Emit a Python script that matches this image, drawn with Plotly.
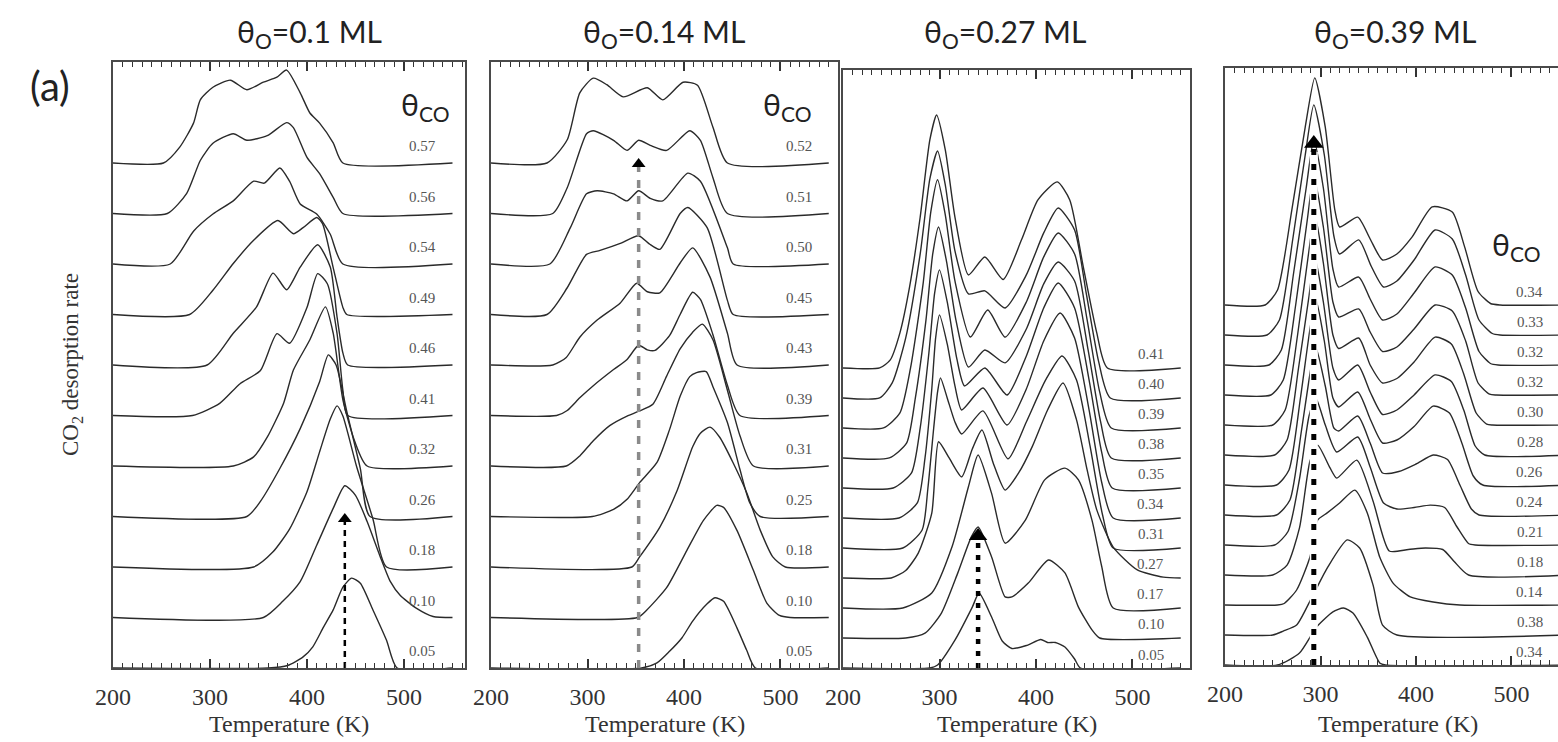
import plotly.graph_objects as go

W, H = 1558, 742

# ---------------- data (heights in units of the stacking offset) ----------------
P1_TITLE = "θ<sub>O</sub>=0.1 ML"
P1_LABELS = ["0.05", "0.10", "0.18", "0.26", "0.32", "0.41", "0.46", "0.49", "0.54", "0.56", "0.57"]
P1_T = [
    [200, 360, 380, 396, 406, 417, 427, 437, 446, 455, 468, 482, 493, 550],
    [200, 355, 375, 393, 410, 427, 439, 450, 462, 475, 486, 496, 513, 530, 550],
    [200, 345, 365, 382, 400, 413, 424, 431, 437, 451, 468, 482, 550],
    [200, 338, 352, 372, 393, 413, 422, 430, 441, 455, 465, 550],
    [200, 324, 345, 359, 376, 386, 403, 419, 427, 437, 449, 462, 550],
    [200, 282, 310, 331, 352, 369, 382, 400, 411, 421, 431, 437, 442, 550],
    [200, 297, 324, 348, 365, 379, 393, 411, 424, 431, 437, 442, 550],
    [200, 279, 303, 324, 345, 370, 386, 396, 410, 416, 427, 437, 441, 550],
    [200, 259, 283, 303, 324, 345, 356, 372, 382, 393, 410, 424, 437, 550],
    [200, 256, 276, 290, 303, 324, 338, 359, 379, 386, 400, 413, 427, 437, 550],
    [200, 252, 269, 283, 290, 303, 321, 338, 355, 369, 379, 393, 403, 413, 427, 437, 550],
]
P1_H = [
    [0, 0, 0.05, 0.22, 0.42, 0.81, 1.15, 1.6, 1.78, 1.68, 1.15, 0.55, 0, 0],
    [0, 0, 0.32, 0.71, 1.43, 2.16, 2.61, 2.42, 1.9, 1.23, 0.71, 0.44, 0.18, 0.02, 0],
    [0, 0, 0.3, 0.75, 1.49, 2.28, 2.93, 3.19, 2.99, 2.0, 0.95, 0, 0],
    [0, 0, 0.3, 0.95, 1.74, 2.67, 3.2, 3.0, 2.08, 0.95, 0, 0],
    [0, 0, 0.18, 0.57, 1.25, 1.9, 2.5, 3.15, 2.63, 1.31, 0.5, 0, 0],
    [0, 0, 0.24, 0.63, 0.89, 1.62, 1.43, 2.14, 2.81, 2.61, 1.62, 0.5, 0, 0],
    [0, 0, 0.63, 1.15, 1.82, 1.49, 1.94, 2.38, 1.94, 0.95, 0.24, 0, 0],
    [0, 0, 0.48, 1.01, 1.47, 1.86, 1.6, 1.72, 1.92, 1.8, 0.93, 0.14, 0, 0],
    [0, 0, 0.65, 0.99, 1.25, 1.64, 1.6, 1.9, 1.64, 1.19, 0.99, 0.59, 0, 0],
    [0, 0, 0.4, 1.05, 1.39, 1.58, 1.45, 1.54, 1.8, 1.7, 1.11, 0.79, 0.32, 0, 0],
    [0, 0, 0.32, 0.79, 1.25, 1.5, 1.64, 1.45, 1.6, 1.7, 1.84, 1.39, 0.99, 0.79, 0.4, 0, 0],
]
P1_ARROW = (439, 3.07)

P2_TITLE = "θ<sub>O</sub>=0.14 ML"
P2_LABELS = ["0.05", "0.10", "0.18", "0.25", "0.31", "0.39", "0.43", "0.45", "0.50", "0.51", "0.52"]
P2_T = [
    [200, 356, 372, 385, 398, 409, 424, 432, 441, 455, 465, 474, 550],
    [200, 352, 361, 382, 403, 420, 434, 441, 455, 472, 486, 499, 510, 550],
    [200, 346, 354, 375, 393, 409, 417, 427, 437, 451, 465, 479, 492, 505, 550],
    [200, 305, 327, 341, 354, 372, 385, 396, 406, 413, 423, 430, 445, 458, 468, 479, 550],
    [200, 278, 292, 306, 323, 341, 354, 368, 382, 396, 409, 419, 430, 445, 458, 472, 550],
    [200, 268, 279, 292, 306, 327, 341, 353, 362, 370, 385, 396, 409, 417, 430, 445, 458, 550],
    [200, 264, 278, 292, 310, 334, 351, 362, 375, 396, 409, 427, 445, 455, 550],
    [200, 258, 279, 299, 313, 334, 353, 364, 375, 396, 404, 424, 445, 451, 550],
    [200, 261, 282, 299, 310, 327, 341, 353, 365, 378, 404, 417, 445, 451, 550],
    [200, 264, 279, 299, 306, 327, 341, 353, 365, 382, 406, 417, 430, 445, 550],
    [200, 258, 279, 292, 306, 320, 337, 362, 378, 399, 414, 430, 445, 550],
]
P2_H = [
    [0, 0, 0.1, 0.33, 0.6, 0.93, 1.27, 1.39, 1.32, 0.79, 0.35, 0, 0],
    [0, 0, 0.14, 0.59, 1.33, 1.92, 2.22, 2.18, 1.72, 0.93, 0.28, 0.04, 0, 0],
    [0, 0, 0.2, 0.79, 1.52, 2.38, 2.65, 2.77, 2.57, 2.06, 1.47, 0.73, 0.2, 0, 0],
    [0, 0, 0.14, 0.34, 0.67, 1.07, 1.72, 2.38, 2.77, 2.85, 2.87, 2.57, 1.86, 0.93, 0.28, 0, 0],
    [0, 0, 0.2, 0.5, 0.8, 0.99, 1.09, 1.23, 1.78, 2.32, 2.65, 2.81, 2.5, 1.5, 0.6, 0, 0],
    [0, 0, 0.1, 0.35, 0.59, 0.91, 1.11, 1.39, 1.3, 1.29, 1.58, 2.0, 2.44, 2.3, 1.6, 0.6, 0, 0],
    [0, 0, 0.15, 0.55, 0.89, 1.23, 1.62, 1.45, 1.43, 2.02, 2.32, 1.74, 0.63, 0, 0],
    [0, 0, 0.53, 1.19, 1.27, 1.41, 1.56, 1.4, 1.29, 2.0, 2.12, 1.72, 0.28, 0, 0],
    [0, 0, 0.71, 1.39, 1.45, 1.39, 1.25, 1.45, 1.3, 1.25, 1.8, 1.64, 0.32, 0, 0],
    [0, 0, 0.51, 1.58, 1.64, 1.45, 1.25, 1.45, 1.35, 1.25, 1.64, 1.45, 0.71, 0, 0],
    [0, 0, 0.46, 1.39, 1.68, 1.55, 1.31, 1.49, 1.25, 1.6, 1.54, 0.71, 0, 0],
]
P2_ARROW = (353, 10.1)

P3_TITLE = "θ<sub>O</sub>=0.27 ML"
P3_LABELS = ["0.05", "0.10", "0.17", "0.27", "0.31", "0.34", "0.35", "0.38", "0.39", "0.40", "0.41"]
P3_T = [
    [200, 290, 298, 316, 334, 341, 354, 365, 375, 390, 405, 412, 420, 430, 440, 446, 550],
    [200, 265, 285, 302, 319, 333, 340, 354, 368, 375, 392, 413, 430, 444, 458, 466, 550],
    [200, 262, 292, 313, 330, 340, 354, 368, 389, 409, 430, 444, 458, 468, 480, 550],
    [200, 250, 265, 278, 292, 299, 310, 323, 334, 344, 356, 368, 382, 396, 412, 428, 442, 453, 463, 480, 505, 532, 550],
    [200, 262, 282, 288, 294, 298, 301, 308, 316, 323, 345, 371, 390, 410, 427, 442, 456, 469, 480, 550],
    [200, 258, 277, 285, 292, 296, 300, 308, 316, 323, 345, 370, 390, 408, 425, 440, 455, 468, 480, 550],
    [200, 252, 271, 280, 289, 295, 300, 308, 318, 326, 347, 370, 390, 408, 423, 440, 455, 468, 479, 550],
    [200, 248, 266, 275, 286, 293, 299, 307, 317, 330, 347, 368, 390, 408, 423, 440, 454, 467, 478, 550],
    [200, 242, 259, 270, 283, 291, 298, 306, 316, 332, 350, 368, 390, 408, 423, 440, 453, 466, 478, 550],
    [200, 238, 251, 265, 280, 290, 298, 306, 316, 330, 347, 368, 390, 408, 423, 440, 452, 465, 477, 550],
    [200, 238, 249, 259, 269, 280, 290, 297, 306, 316, 330, 347, 366, 385, 402, 422, 435, 449, 463, 474, 550],
]
P3_H = [
    [0, 0, 0.1, 0.93, 2.03, 2.5, 1.7, 0.9, 0.65, 0.75, 0.95, 0.85, 0.85, 0.7, 0.3, 0, 0],
    [0, 0, 0.16, 0.83, 2.17, 3.37, 3.7, 2.7, 1.37, 1.37, 1.83, 2.6, 2.17, 1.03, 0.27, 0, 0],
    [0, 0, 0.5, 2.04, 4.04, 5.1, 3.82, 2.16, 2.93, 4.27, 4.66, 4.27, 2.93, 1.4, 0, 0],
    [0, 0, 0.25, 0.83, 2.16, 4.54, 4.0, 3.37, 4.3, 4.93, 3.8, 2.93, 3.5, 4.37, 5.6, 6.5, 5.27, 3.6, 2.27, 1.03, 0.27, 0.03, 0],
    [0, 0, 0.6, 2.0, 4.0, 5.2, 5.67, 5.0, 4.2, 3.8, 4.57, 2.97, 4.2, 5.6, 6.4, 5.6, 3.4, 1.1, 0, 0],
    [0, 0, 0.5, 2.0, 4.3, 6.0, 6.77, 5.8, 4.4, 3.6, 4.33, 3.1, 4.3, 5.9, 6.83, 6.0, 3.6, 1.2, 0, 0],
    [0, 0, 0.5, 2.0, 4.5, 6.5, 7.27, 6.2, 4.3, 3.4, 4.0, 3.1, 4.4, 6.0, 6.83, 6.0, 3.6, 1.2, 0, 0],
    [0, 0, 0.5, 2.0, 4.6, 6.8, 7.7, 6.6, 4.6, 3.03, 3.6, 3.17, 4.3, 5.8, 6.53, 5.9, 3.6, 1.2, 0, 0],
    [0, 0, 0.5, 2.0, 4.8, 7.2, 8.27, 7.1, 4.9, 3.03, 3.93, 3.03, 4.2, 5.7, 6.5, 5.8, 3.6, 1.2, 0, 0],
    [0, 0, 0.5, 2.0, 4.8, 7.3, 8.23, 7.1, 4.9, 3.47, 3.57, 3.0, 4.1, 5.5, 6.33, 5.6, 3.5, 1.2, 0, 0],
    [0, 0, 0.27, 1.17, 2.7, 5.03, 7.6, 8.43, 7.27, 5.03, 3.1, 3.7, 2.95, 4.27, 5.6, 6.2, 5.6, 3.37, 1.17, 0, 0],
]
P3_ARROW = (340, 4.67)

P4_TITLE = "θ<sub>O</sub>=0.39 ML"
P4_LABELS = ["0.34", "0.38", "0.14", "0.18", "0.21", "0.24", "0.26", "0.28", "0.30", "0.32", "0.32", "0.33", "0.34"]
P4_T = [
    [200, 255, 278, 296, 313, 324, 334, 349, 362, 368, 560],
    [200, 250, 261, 275, 289, 307, 328, 341, 355, 365, 380, 560],
    [200, 255, 262, 275, 289, 297, 307, 320, 336, 349, 362, 376, 394, 418, 446, 560],
    [200, 250, 265, 278, 289, 297, 310, 317, 338, 355, 372, 392, 410, 428, 440, 455, 560],
    [200, 252, 266, 278, 288, 295, 305, 317, 339, 352, 366, 380, 398, 415, 430, 443, 455, 462, 560],
    [200, 254, 268, 280, 290, 295, 305, 314, 319, 339, 352, 365, 382, 400, 418, 433, 446, 458, 466, 560],
    [200, 254, 267, 279, 289, 295, 304, 313, 319, 339, 352, 365, 380, 398, 418, 435, 448, 460, 470, 560],
    [200, 252, 265, 277, 288, 294, 303, 313, 319, 339, 352, 365, 380, 398, 420, 437, 450, 462, 472, 560],
    [200, 250, 263, 276, 287, 294, 303, 313, 319, 340, 352, 365, 380, 398, 420, 437, 450, 463, 474, 480, 560],
    [200, 248, 261, 274, 286, 293, 303, 313, 319, 340, 352, 365, 380, 398, 420, 438, 452, 465, 477, 484, 560],
    [200, 246, 259, 272, 285, 293, 303, 313, 319, 340, 352, 365, 380, 398, 420, 438, 452, 466, 478, 486, 560],
    [200, 244, 257, 271, 284, 293, 304, 314, 320, 340, 353, 366, 380, 398, 420, 438, 452, 466, 480, 488, 560],
    [200, 242, 255, 270, 284, 294, 305, 315, 320, 339, 352, 365, 380, 396, 417, 438, 451, 465, 478, 488, 560],
]
P4_H = [
    [0, 0, 0.4, 1.27, 1.77, 1.9, 1.73, 0.93, 0.07, 0, 0],
    [0, 0, 0.13, 0.33, 1.13, 2.23, 3.17, 2.9, 1.67, 0.33, 0, 0],
    [0, 0, 0.05, 0.5, 1.6, 2.83, 3.07, 3.4, 3.83, 3.07, 1.6, 0.73, 0.27, 0.1, 0, 0],
    [0, 0, 0.33, 1.57, 3.8, 4.33, 3.57, 3.23, 3.83, 2.47, 0.8, 0.85, 0.9, 0.85, 0.45, 0, 0],
    [0, 0, 0.45, 2.2, 4.3, 4.9, 4.0, 3.1, 3.6, 2.6, 1.4, 1.2, 1.25, 1.33, 1.25, 0.6, 0.05, 0, 0],
    [0, 0, 0.5, 2.8, 4.9, 5.6, 4.3, 2.9, 2.8, 3.3, 2.4, 1.4, 1.45, 1.7, 2.0, 1.85, 1.0, 0.2, 0, 0],
    [0, 0, 0.5, 2.9, 5.2, 6.2, 4.8, 2.9, 2.6, 3.1, 2.2, 1.4, 1.5, 1.95, 2.63, 2.4, 1.4, 0.3, 0, 0],
    [0, 0, 0.5, 2.9, 5.3, 6.6, 5.1, 2.9, 2.5, 3.0, 2.1, 1.35, 1.5, 2.0, 2.67, 2.45, 1.5, 0.3, 0, 0],
    [0, 0, 0.5, 3.0, 5.6, 7.0, 5.4, 3.0, 2.55, 2.9, 2.0, 1.4, 1.55, 2.1, 2.93, 2.7, 1.7, 0.4, 0.03, 0, 0],
    [0, 0, 0.5, 3.0, 5.8, 7.3, 5.6, 3.1, 2.6, 2.87, 2.1, 1.45, 1.6, 2.2, 3.0, 2.8, 1.8, 0.4, 0.03, 0, 0],
    [0, 0, 0.5, 3.1, 5.9, 7.5, 5.9, 3.2, 2.6, 2.93, 2.2, 1.5, 1.7, 2.4, 3.27, 3.0, 1.9, 0.45, 0.05, 0, 0],
    [0, 0, 0.5, 3.2, 6.0, 7.67, 6.0, 3.3, 2.7, 3.17, 2.3, 1.6, 1.8, 2.5, 3.5, 3.2, 2.0, 0.5, 0.05, 0, 0],
    [0, 0, 0.5, 3.17, 5.93, 7.57, 5.93, 3.17, 2.6, 2.93, 2.2, 1.5, 1.7, 2.27, 3.27, 3.1, 1.93, 0.45, 0.05, 0, 0],
]
P4_ARROW = (293, 17.67)

X_TITLE = "Temperature (K)"
Y_TITLE = "CO<sub>2</sub> desorption rate"
THETA_CO = "θ<sub>CO</sub>"
LABEL_T = 519

# ---------------- layout geometry (pixels) ----------------
PANELS = [
    dict(T=P1_T, H=P1_H, labels=P1_LABELS, arrow=P1_ARROW, title=P1_TITLE,
         x0=113, x1=465, y0=62, y1=668, xr=(200, 562.9), yr=(0, 12.0), ldy=0.33, mirror=True,
         title_xy=(309, 33), xt_x=289, theta=(425, 106),
         astyle=dict(color="black", width=2.5, dash="6px,5px", msize=12, halo=False)),
    dict(T=P2_T, H=P2_H, labels=P2_LABELS, arrow=P2_ARROW, title=P2_TITLE,
         x0=491, x1=838, y0=62, y1=668, xr=(200, 559.6), yr=(0, 12.0), ldy=0.33, mirror=True,
         title_xy=(664, 33), xt_x=665, theta=(787, 106),
         astyle=dict(color="#8a8a8a", width=3.5, dash="8px,8px", msize=12, halo=False)),
    dict(T=P3_T, H=P3_H, labels=P3_LABELS, arrow=P3_ARROW, title=P3_TITLE,
         x0=843, x1=1190, y0=70, y1=668, xr=(200, 559.6), yr=(0, 19.93), ldy=0.45, mirror=True,
         title_xy=(1005, 33), xt_x=1017, theta=None,
         astyle=dict(color="black", width=4.5, dash="5px,7px", msize=16, halo=False)),
    dict(T=P4_T, H=P4_H, labels=P4_LABELS, arrow=P4_ARROW, title=P4_TITLE,
         x0=1225, x1=1558, y0=68, y1=665, xr=(200, 548.7), yr=(0, 19.9), ldy=0.45, mirror=False,
         title_xy=(1395, 33), xt_x=1398, theta=(1516, 246),
         astyle=dict(color="black", width=5, dash="6px,9px", msize=17, halo=True)),
]

SERIF = "Liberation Serif, Times New Roman, serif"
SANS = "Lato, Open Sans, sans-serif"
FRAME = "#4a4a4a"
CURVE = "#2a2a2a"


def px(x):
    return x / W


def py(y):
    return 1 - y / H


fig = go.Figure()
annotations = []
layout_axes = {}

for k, p in enumerate(PANELS, start=1):
    sx = "" if k == 1 else str(k)
    xa, ya = "x" + sx, "y" + sx

    # curves, stacked by their index
    for i, (ts, hs) in enumerate(zip(p["T"], p["H"])):
        fig.add_trace(go.Scatter(
            x=ts, y=[i + h for h in hs], mode="lines", xaxis=xa, yaxis=ya,
            line=dict(color=CURVE, width=1.4, shape="spline", smoothing=0.6),
            hoverinfo="skip", showlegend=False, cliponaxis=True))
        annotations.append(dict(
            x=LABEL_T, y=i + p["ldy"], xref=xa, yref=ya, text=p["labels"][i],
            showarrow=False, xanchor="center", yanchor="middle",
            font=dict(family=SERIF, size=15, color="#555555")))

    # arrow
    at, tip = p["arrow"]
    st = p["astyle"]
    ppu = (p["y1"] - p["y0"]) / (p["yr"][1] - p["yr"][0])
    r_units = (st["msize"] / 2) / ppu
    if st["halo"]:
        fig.add_trace(go.Scatter(
            x=[at, at], y=[0, tip - 2 * r_units], mode="lines", xaxis=xa, yaxis=ya,
            line=dict(color="white", width=8), hoverinfo="skip", showlegend=False))
    fig.add_trace(go.Scatter(
        x=[at, at], y=[0, tip - 1.3 * r_units], mode="lines", xaxis=xa, yaxis=ya,
        line=dict(color=st["color"], width=st["width"], dash=st["dash"]),
        hoverinfo="skip", showlegend=False))
    fig.add_trace(go.Scatter(
        x=[at], y=[tip - r_units], mode="markers", xaxis=xa, yaxis=ya,
        marker=dict(symbol="triangle-up", size=st["msize"], color="black", line=dict(width=0)),
        hoverinfo="skip", showlegend=False))

    layout_axes["xaxis" + sx] = dict(
        domain=[px(p["x0"]), px(p["x1"])], range=list(p["xr"]), anchor=ya,
        automargin=False,
        showline=True, linecolor=FRAME, linewidth=2, mirror="allticks",
        ticks="inside", ticklen=9, tickwidth=1.6, tickcolor="#333333",
        tick0=200, dtick=100, showgrid=False, zeroline=False,
        tickfont=dict(family=SERIF, size=24, color="#333333"),
        ticklabelstandoff=6,
        minor=dict(ticks="inside", ticklen=5, tickwidth=1.2, tickcolor="#333333",
                   tick0=200, dtick=10, showgrid=False),
        layer="above traces",
        fixedrange=True)
    layout_axes["yaxis" + sx] = dict(
        domain=[py(p["y1"]), py(p["y0"])], range=list(p["yr"]), anchor=xa,
        automargin=False,
        showline=True, linecolor=FRAME, linewidth=2, mirror=p["mirror"],
        ticks="", showticklabels=False, showgrid=False, zeroline=False, fixedrange=True)

    # titles
    tx, ty = p["title_xy"]
    annotations.append(dict(x=px(tx), y=py(ty), xref="paper", yref="paper", text=p["title"],
                            showarrow=False, xanchor="center", yanchor="middle",
                            font=dict(family=SANS, size=30, color="#222222")))
    annotations.append(dict(x=px(p["xt_x"]), y=py(724), xref="paper", yref="paper", text=X_TITLE,
                            showarrow=False, xanchor="center", yanchor="middle",
                            font=dict(family=SERIF, size=24, color="#333333")))
    if p["theta"]:
        thx, thy = p["theta"]
        annotations.append(dict(x=px(thx), y=py(thy), xref="paper", yref="paper", text=THETA_CO,
                                showarrow=False, xanchor="center", yanchor="middle",
                                font=dict(family=SANS, size=30, color="#222222")))

annotations.append(dict(x=px(50), y=py(86), xref="paper", yref="paper", text="(a)",
                        showarrow=False, xanchor="center", yanchor="middle",
                        font=dict(family=SANS, size=40, color="#222222")))
annotations.append(dict(x=px(72), y=py(365), xref="paper", yref="paper", text=Y_TITLE,
                        showarrow=False, xanchor="center", yanchor="middle", textangle=-90,
                        font=dict(family=SERIF, size=23, color="#333333")))

fig.update_layout(
    width=W, height=H, margin=dict(l=0, r=0, t=0, b=0, pad=0, autoexpand=False),
    paper_bgcolor="white", plot_bgcolor="white", showlegend=False,
    annotations=annotations, **layout_axes)

fig.write_html("out.html")
